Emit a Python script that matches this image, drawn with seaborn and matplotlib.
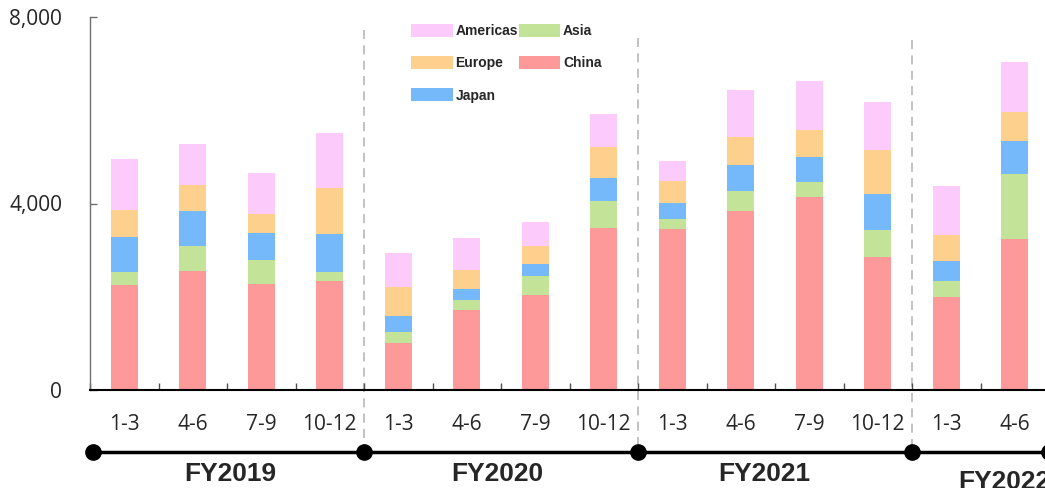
import numpy as np
import pandas as pd
import matplotlib
matplotlib.use("Agg")
import matplotlib.pyplot as plt
import seaborn as sns

# ---- data ----
years = ["FY2019", "FY2020", "FY2021", "FY2022"]
quarters = ["1-3", "4-6", "7-9", "10-12",
            "1-3", "4-6", "7-9", "10-12",
            "1-3", "4-6", "7-9", "10-12",
            "1-3", "4-6"]
china    = [2250, 2550, 2275, 2340, 1010, 1720, 2035, 3475, 3450, 3840, 4140, 2850, 1990, 3235]
asia     = [ 285,  540,  520,  200,  230,  215,  405,  585,  210,  420,  315,  590,  345, 1405]
japan    = [ 755,  745,  580,  800,  350,  235,  270,  485,  350,  565,  535,  765,  435,  700]
europe   = [ 560,  570,  400,  985,  615,  405,  385,  665,  465,  600,  585,  940,  555,  630]
americas = [1105,  865,  885, 1190,  730,  680,  500,  700,  430, 1005, 1045, 1030, 1045, 1070]
y_ticks = [0, 4000, 8000]

series_names = ["China", "Asia", "Japan", "Europe", "Americas"]
series_vals = [china, asia, japan, europe, americas]
colors = {"Americas": "#FCCBFC", "Europe": "#FED08D", "Japan": "#75B9FB",
          "Asia": "#C3E398", "China": "#FE9999"}

sns.set_theme(style="white")
plt.rcParams["font.family"] = ["Open Sans", "DejaVu Sans"]

W, H = 1045, 488
fig = plt.figure(figsize=(W / 100, H / 100), dpi=100)
ax = fig.add_axes([90 / W, 1 - 390 / H, (1049 - 90) / W, (390 - 17) / H])

keys = [f"{i:02d}" for i in range(len(quarters))]
cum = np.cumsum(np.array(series_vals), axis=0)
df = pd.DataFrame({"key": keys})
for name, c in zip(series_names, cum):
    df[name] = c

# draw from top of stack downwards (overlapping cumulative bars)
for name in reversed(series_names):
    sns.barplot(data=df, x="key", y=name, order=keys, color=colors[name],
                saturation=1, width=0.4, linewidth=0, ax=ax, label=name)

handles, labels = ax.get_legend_handles_labels()
if ax.get_legend() is not None:
    ax.get_legend().remove()

ax.set_xlim(-0.5, 13.5)
ax.set_ylim(0, 8000)
ax.set_xlabel("")
ax.set_ylabel("")

# y axis
ax.set_yticks(y_ticks)
ax.set_yticklabels([f"{v:,}" for v in y_ticks], fontsize=15)
ax.tick_params(axis="y", direction="in", length=5, width=1, color="#707070",
               pad=20, left=True)

# x axis
ax.set_xticks(range(len(quarters)))
ax.set_xticklabels(quarters, fontsize=15)
ax.tick_params(axis="x", which="major", length=0, pad=17)
ax.set_xticks(np.arange(-0.5, 14, 1.0), minor=True)
ax.tick_params(axis="x", which="minor", direction="in", length=5, width=1,
               color="#505050", bottom=True)

for s in ["top", "right"]:
    ax.spines[s].set_visible(False)
ax.spines["left"].set_color("#707070")
ax.spines["left"].set_linewidth(1)
ax.spines["bottom"].set_color("black")
ax.spines["bottom"].set_linewidth(1.5)

# dashed year separators
px = 1000 / 46.65  # data units per pixel
sep_x = [3.5, 7.5, 11.5]
sep_top = [7720, 7550, 7500]
timeline_y = -(452 - 390) * px
for xs, top in zip(sep_x, sep_top):
    ax.plot([xs, xs], [top, timeline_y], ls=(0, (5, 3.5)), color="#BDBDBD",
            lw=1.3, clip_on=False, zorder=0)

# timeline with dots
dots = [-0.45, 3.5, 7.5, 11.5, 13.5]
ax.plot(dots, [timeline_y] * len(dots), color="black", lw=2.5,
        marker="o", markersize=11, clip_on=False, zorder=5)

# fiscal year labels
fy_x = [1.55, 5.45, 9.35, 12.85]
fy_y = [-(474 - 390) * px] * 3 + [-(482 - 390) * px]
for label, xx, yy in zip(years, fy_x, fy_y):
    ax.text(xx, yy, label, ha="center", va="center", fontsize=19,
            fontweight="bold", family=["Liberation Sans", "DejaVu Sans"],
            clip_on=False)

# legend
hmap = dict(zip(labels, handles))
order = ["Americas", "Europe", "Japan", "Asia", "China"]
leg = fig.legend([hmap[n] for n in order], order, loc="upper left",
                 bbox_to_anchor=(411 / W, 1 - 24 / H), ncol=2, frameon=False,
                 borderpad=0, borderaxespad=0, handlelength=3.0,
                 handleheight=1.05, handletextpad=0.2, columnspacing=0.05,
                 labelspacing=1.3,
                 prop={"family": ["Liberation Sans", "DejaVu Sans"],
                       "weight": "bold", "size": 10})

fig.savefig("out.png", dpi=100)
